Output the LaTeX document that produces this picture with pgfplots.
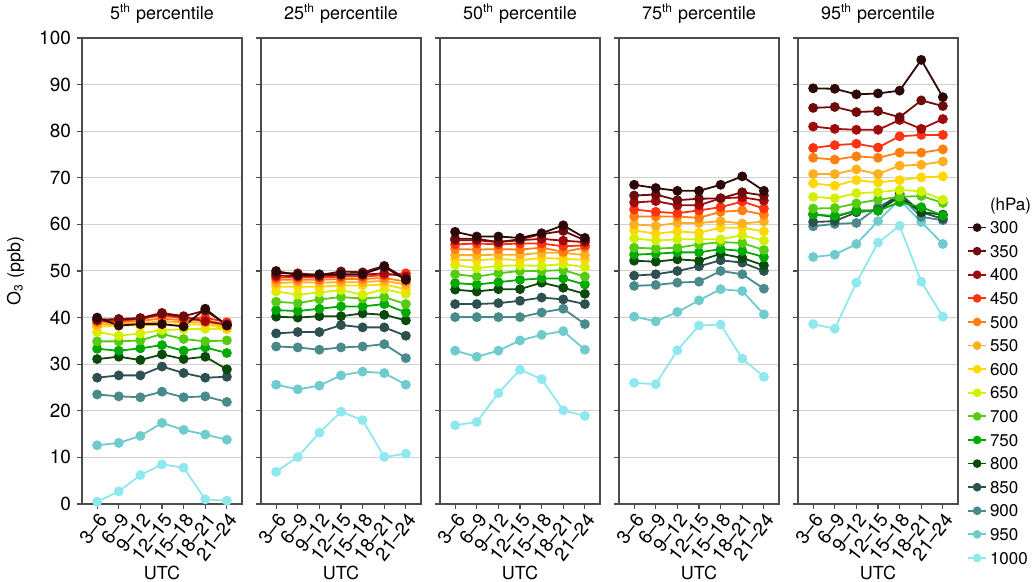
\documentclass[border=0pt]{standalone}
\usepackage{pgfplots}
\usepackage{pgfplotstable}
\pgfplotsset{compat=1.18}
\usepackage{fontspec}
\setmainfont{TeX Gyre Heros}

\definecolor{c300}{HTML}{2D0808}
\definecolor{c350}{HTML}{6E0B0B}
\definecolor{c400}{HTML}{A00A0A}
\definecolor{c450}{HTML}{FF3311}
\definecolor{c500}{HTML}{FF8010}
\definecolor{c550}{HTML}{FFB020}
\definecolor{c600}{HTML}{FFD800}
\definecolor{c650}{HTML}{D4F000}
\definecolor{c700}{HTML}{55CC11}
\definecolor{c750}{HTML}{00AA00}
\definecolor{c800}{HTML}{0A4A0A}
\definecolor{c850}{HTML}{2E5050}
\definecolor{c900}{HTML}{4A8A8A}
\definecolor{c950}{HTML}{70CCCC}
\definecolor{c1000}{HTML}{8EE8EE}

% 5th percentile
\pgfplotstableread{
x p300 p350 p400 p450 p500 p550 p600 p650 p700 p750 p800 p850 p900 p950 p1000
0 40.0 39.5 39.6 39.3 39.0 38.5 38.0 36.9 34.9 33.3 31.1 27.1 23.5 12.6 0.5
1 38.3 39.7 39.5 39.3 39.0 38.7 38.3 36.1 34.9 32.9 31.6 27.6 23.1 13.1 2.7
2 38.6 39.9 39.8 39.7 39.3 38.8 38.3 36.6 35.1 33.4 30.9 27.6 22.9 14.6 6.2
3 38.6 41.0 40.8 40.5 39.8 39.2 38.5 37.3 36.5 34.1 32.1 29.5 24.1 17.4 8.5
4 38.1 40.3 40.1 39.8 39.4 39.0 38.5 37.5 35.4 32.9 31.1 28.1 22.9 15.9 7.8
5 41.9 41.5 39.2 40.0 39.6 39.0 38.5 37.6 34.9 33.6 31.6 27.1 23.1 14.9 1.0
6 38.3 38.5 38.5 39.0 38.3 38.0 37.6 37.5 35.1 32.4 28.9 27.3 21.9 13.8 0.7
}\tA
% 25th percentile
\pgfplotstableread{
x p300 p350 p400 p450 p500 p550 p600 p650 p700 p750 p800 p850 p900 p950 p1000
0 50.0 49.5 49.0 48.6 48.1 47.4 46.6 45.6 43.4 41.6 40.2 36.6 33.8 25.6 6.9
1 49.1 49.5 48.9 48.6 48.1 47.6 46.6 44.9 43.1 41.4 40.0 36.9 33.6 24.6 10.1
2 49.3 49.1 48.9 48.6 48.1 47.5 46.6 45.4 43.9 41.9 40.3 36.9 33.1 25.4 15.3
3 49.3 49.9 49.2 48.8 48.3 47.6 46.9 45.9 44.4 42.4 40.3 38.4 33.6 27.6 19.8
4 49.3 49.7 49.2 48.8 48.3 47.6 46.9 44.9 44.1 42.4 40.9 37.9 33.8 28.4 18.0
5 50.9 51.1 49.5 49.1 48.5 47.9 47.1 46.1 44.4 42.9 40.6 37.9 34.3 28.1 10.1
6 48.1 48.4 48.8 49.5 47.7 47.1 46.1 45.1 42.9 41.1 39.4 36.1 31.3 25.6 10.8
}\tB
% 50th percentile
\pgfplotstableread{
x p300 p350 p400 p450 p500 p550 p600 p650 p700 p750 p800 p850 p900 p950 p1000
0 58.4 56.9 56.6 55.7 54.7 53.4 52.4 51.3 49.3 47.4 46.0 42.9 40.1 32.9 16.9
1 57.4 56.9 56.6 55.9 54.6 53.4 52.3 50.6 48.8 47.1 45.6 42.9 40.1 31.6 17.6
2 57.4 56.2 56.2 55.7 54.7 53.5 52.6 51.1 49.5 47.6 46.1 43.1 40.1 32.9 23.8
3 57.1 56.8 56.6 55.9 54.6 53.5 52.3 51.2 50.0 48.1 46.1 43.6 40.1 35.1 28.8
4 58.1 57.9 56.9 55.9 55.0 53.9 52.8 51.1 50.0 48.4 47.5 44.3 41.1 36.3 26.8
5 59.8 58.6 56.5 55.3 54.1 53.9 52.6 51.5 50.2 48.4 46.4 43.9 41.9 37.1 20.1
6 57.1 56.6 56.2 55.5 55.0 53.4 52.4 50.8 48.8 47.1 45.1 42.9 38.6 33.1 18.9
}\tC
% 75th percentile
\pgfplotstableread{
x p300 p350 p400 p450 p500 p550 p600 p650 p700 p750 p800 p850 p900 p950 p1000
0 68.5 66.2 64.7 63.2 61.7 60.0 58.7 57.0 55.0 53.5 52.2 49.0 46.8 40.2 26.0
1 67.8 66.4 65.0 62.7 61.7 59.7 58.0 56.5 54.8 53.7 52.0 49.3 47.0 39.2 25.7
2 67.2 65.2 64.1 62.4 61.7 60.3 58.5 56.8 55.0 54.0 52.5 50.0 47.5 41.2 33.0
3 67.2 65.5 64.1 63.0 61.4 60.3 58.2 56.8 55.7 54.0 52.2 51.0 47.7 43.7 38.3
4 68.5 65.6 65.6 63.7 62.7 60.7 59.3 56.8 56.2 54.7 53.7 52.3 50.0 46.1 38.5
5 70.3 66.9 65.8 64.9 63.0 60.2 59.3 57.7 56.0 54.3 52.8 51.8 49.3 45.7 31.2
6 67.2 66.2 65.1 63.4 62.1 60.6 58.5 56.5 54.5 53.0 51.2 50.0 46.2 40.7 27.3
}\tD
% 95th percentile
\pgfplotstableread{
x p300 p350 p400 p450 p500 p550 p600 p650 p700 p750 p800 p850 p900 p950 p1000
0 89.2 85.0 81.0 76.4 74.3 70.8 68.8 65.9 63.4 62.1 62.2 60.5 59.6 53.0 38.6
1 89.1 85.2 80.5 77.0 73.9 70.8 68.3 65.6 63.5 61.8 61.6 60.7 60.1 53.5 37.6
2 87.9 84.1 80.3 77.3 74.6 71.8 69.5 66.7 64.5 62.9 63.0 62.6 60.3 55.8 47.5
3 88.1 84.3 80.3 76.5 74.3 70.8 69.0 66.9 65.3 62.9 63.0 63.1 63.7 60.7 56.1
4 88.7 83.0 82.4 78.9 75.4 72.6 69.5 67.4 65.9 64.8 65.9 66.6 66.2 65.3 59.7
5 95.3 86.6 80.5 79.2 75.4 72.8 70.1 67.1 66.1 63.7 62.6 62.6 61.6 60.5 47.7
6 87.3 85.4 82.6 79.2 76.1 73.5 70.3 65.3 64.6 61.9 62.1 61.2 60.9 55.8 40.2
}\tE

\pgfplotsset{
  panel/.style={
    scale only axis, width=80pt, height=233pt, anchor=south west,
    xmin=-0.7, xmax=6.7, ymin=0, ymax=100,
    xtick={0,1,2,3,4,5,6},
    xticklabels={3--6,6--9,9--12,12--15,15--18,18--21,21--24},
    xticklabel style={rotate=52, anchor=north east, inner sep=1pt, font=\fontsize{9.5}{11}\selectfont},
    yticklabel style={font=\fontsize{9.5}{11}\selectfont},
    ytick={0,10,...,100},
    tick align=outside, tick pos=left,
    major tick length=2.5pt,
    ymajorgrids, grid style={line width=0.5pt, black!18},
    axis line style={line width=0.6pt, black!70},
    tick style={line width=0.6pt, black!70},
    xlabel={UTC},
    xlabel style={at={(axis description cs:0.5,-0.147)}, anchor=center, font=\fontsize{9}{11}\selectfont},
    title style={yshift=-2pt, font=\fontsize{9}{11}\selectfont},
    /pgf/number format/assume math mode=true,
    every axis plot/.append style={line width=0.9pt, mark=*, mark size=2pt},
  }
}

\begin{document}
\fontsize{8.5}{10}\selectfont
\begin{tikzpicture}
\useasboundingbox (0,0) rectangle (516pt,291pt);

\begin{axis}[panel, at={(41pt,39pt)}, title={5\textsuperscript{th} percentile},
  ylabel={O\textsubscript{3} (ppb)}, ylabel style={font=\fontsize{9}{11}\selectfont, at={(axis description cs:-0.415,0.5)}, anchor=center}]
\pgfplotsinvokeforeach{1000,950,900,850,800,750,700,650,600,550,500,450,400,350,300}{
  \addplot[color=c#1, mark options={fill=c#1, draw=c#1}] table[x=x, y=p#1]{\tA};
}
\end{axis}

\begin{axis}[panel, at={(130.5pt,39pt)}, title={25\textsuperscript{th} percentile}, yticklabels={}]
\pgfplotsinvokeforeach{1000,950,900,850,800,750,700,650,600,550,500,450,400,350,300}{
  \addplot[color=c#1, mark options={fill=c#1, draw=c#1}] table[x=x, y=p#1]{\tB};
}
\end{axis}

\begin{axis}[panel, at={(220pt,39pt)}, title={50\textsuperscript{th} percentile}, yticklabels={}]
\pgfplotsinvokeforeach{1000,950,900,850,800,750,700,650,600,550,500,450,400,350,300}{
  \addplot[color=c#1, mark options={fill=c#1, draw=c#1}] table[x=x, y=p#1]{\tC};
}
\end{axis}

\begin{axis}[panel, at={(309.5pt,39pt)}, title={75\textsuperscript{th} percentile}, yticklabels={}]
\pgfplotsinvokeforeach{1000,950,900,850,800,750,700,650,600,550,500,450,400,350,300}{
  \addplot[color=c#1, mark options={fill=c#1, draw=c#1}] table[x=x, y=p#1]{\tD};
}
\end{axis}

\begin{axis}[panel, at={(399pt,39pt)}, title={95\textsuperscript{th} percentile}, yticklabels={},
  reverse legend,
  legend style={at={(1.055,0.67)}, anchor=north west, draw=none, fill=none,
    font=\fontsize{8.5}{10}\selectfont, row sep=0pt, inner sep=0pt,
    nodes={inner sep=0pt, text height=6.2pt, text depth=0pt, inner ysep=2.8pt, inner xsep=1.5pt}},
  legend cell align=left,
  legend image code/.code={\draw[mark size=1.7pt, line width=0.9pt] plot coordinates {(0pt,0pt) (4.5pt,0pt) (9pt,0pt)};},
  legend image post style={mark repeat=2, mark phase=2}]
\pgfplotsinvokeforeach{1000,950,900,850,800,750,700,650,600,550,500,450,400,350,300}{
  \addplot[color=c#1, mark options={fill=c#1, draw=c#1}] table[x=x, y=p#1]{\tE};
  \addlegendentry{#1}
}
\addlegendimage{empty legend}
\addlegendentry{(hPa)}
\end{axis}
\end{tikzpicture}
\end{document}
